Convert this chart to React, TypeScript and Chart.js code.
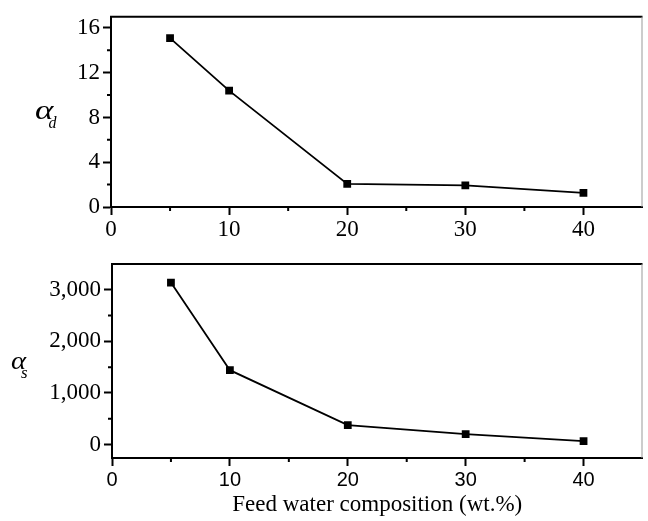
import React, { useEffect, useRef } from "react";
import { Chart, registerables } from "chart.js";
Chart.register(...registerables);

const feedWater = [5, 10, 20, 30, 40];
const alphaD = [15.1, 10.4, 2.06, 1.94, 1.26];
const alphaS = [3140, 1442, 376, 201, 66];
const xTicks = [0, 10, 20, 30, 40];
const xMinor = [5, 15, 25, 35];
const dTicks = [0, 4, 8, 12, 16];
const dMinor = [2, 6, 10, 14];
const sTicks = [0, 1000, 2000, 3000];
const sMinor = [500, 1500, 2500];
const xTitle = "Feed water composition (wt.%)";

const SERIF = "'Liberation Serif', 'Times New Roman', serif";
const SANS = "'Liberation Sans', Arial, sans-serif";

type PanelSpec = {
  values: number[];
  yMin: number;
  yMax: number;
  yTicks: number[];
  yMinor: number[];
  symbol: string;
  sub: string;
  labelX: number;
  symSize: number;
  symScale: number;
  subSize: number;
  left: number;
  top: number;
  xHeight: number;
  showTitle: boolean;
  xFont: { family: string; size: number };
  xPad: number;
  fmt: (v: number) => string;
};

function makeChart(canvas: HTMLCanvasElement, p: PanelSpec) {
  const decor = {
    id: "decor",
    afterDraw(chart: any) {
      const { ctx, chartArea } = chart;
      const xs = chart.scales.x;
      const ys = chart.scales.y;
      ctx.save();
      ctx.strokeStyle = "#000";
      ctx.lineWidth = 2;
      ctx.beginPath();
      ctx.moveTo(chartArea.left - 1, chartArea.top);
      ctx.lineTo(chartArea.right, chartArea.top);
      ctx.stroke();
      ctx.strokeStyle = "#999";
      ctx.lineWidth = 1;
      ctx.beginPath();
      ctx.moveTo(chartArea.right - 0.5, chartArea.top);
      ctx.lineTo(chartArea.right - 0.5, chartArea.bottom);
      ctx.stroke();
      ctx.strokeStyle = "#000";
      ctx.lineWidth = 2;
      ctx.beginPath();
      xMinor.forEach((v) => {
        const px = xs.getPixelForValue(v);
        ctx.moveTo(px, chartArea.bottom);
        ctx.lineTo(px, chartArea.bottom + 4);
      });
      p.yMinor.forEach((v) => {
        const py = ys.getPixelForValue(v);
        ctx.moveTo(chartArea.left, py);
        ctx.lineTo(chartArea.left - 4, py);
      });
      ctx.stroke();
      const cy = (chartArea.top + chartArea.bottom) / 2;
      ctx.fillStyle = "#000";
      ctx.textBaseline = "alphabetic";
      ctx.textAlign = "left";
      ctx.font = `italic ${p.symSize}px ${SERIF}`;
      const w = ctx.measureText(p.symbol).width * p.symScale;
      ctx.save();
      ctx.translate(p.labelX, cy + 7.5);
      ctx.scale(p.symScale, 1);
      ctx.fillText(p.symbol, 0, 0);
      ctx.restore();
      ctx.font = `italic ${p.subSize}px ${SERIF}`;
      ctx.fillText(p.sub, p.labelX + w - 5, cy + 16.5);
      ctx.restore();
    },
  };

  return new Chart(canvas, {
    type: "line",
    data: {
      datasets: [
        {
          data: feedWater.map((x, i) => ({ x, y: p.values[i] })),
          borderColor: "#000",
          backgroundColor: "#000",
          borderWidth: 1.8,
          pointStyle: "rect",
          pointRadius: 5.5,
          pointBorderWidth: 0,
          tension: 0,
        },
      ],
    },
    options: {
      animation: false,
      responsive: false,
      events: [],
      layout: { padding: { left: 0, top: p.top, right: 1, bottom: 0 } },
      plugins: { legend: { display: false }, tooltip: { enabled: false } },
      scales: {
        x: {
          type: "linear",
          min: 0,
          max: 45,
          afterBuildTicks: (s: any) => {
            s.ticks = xTicks.map((v) => ({ value: v }));
          },
          afterFit: (s: any) => {
            s.height = p.xHeight;
          },
          border: { display: true, color: "#000", width: 2 },
          grid: {
            display: true,
            drawOnChartArea: false,
            drawTicks: true,
            tickLength: 8,
            tickColor: "#000",
            tickWidth: 2,
          },
          ticks: {
            color: "#000",
            padding: p.xPad,
            maxRotation: 0,
            font: p.xFont,
            callback: (v: any) => String(v),
          },
          title: {
            display: p.showTitle,
            text: xTitle,
            color: "#000",
            font: { family: SERIF, size: 23 },
            padding: { top: 0, bottom: 2 },
          },
        },
        y: {
          type: "linear",
          min: p.yMin,
          max: p.yMax,
          afterBuildTicks: (s: any) => {
            s.ticks = p.yTicks.map((v) => ({ value: v }));
          },
          afterFit: (s: any) => {
            s.width = p.left;
          },
          border: { display: true, color: "#000", width: 2 },
          grid: {
            display: true,
            drawOnChartArea: false,
            drawTicks: true,
            tickLength: 8,
            tickColor: "#000",
            tickWidth: 2,
          },
          ticks: {
            color: "#000",
            padding: 3,
            font: { family: SERIF, size: 23 },
            callback: (v: any) => p.fmt(Number(v)),
          },
        },
      },
    },
    plugins: [decor],
  });
}

const fmtComma = (v: number) => v.toLocaleString("en-US");

export default function App() {
  const topRef = useRef<HTMLCanvasElement>(null);
  const botRef = useRef<HTMLCanvasElement>(null);

  useEffect(() => {
    const c1 = makeChart(topRef.current!, {
      values: alphaD,
      yMin: 0,
      yMax: 17,
      yTicks: dTicks,
      yMinor: dMinor,
      symbol: "α",
      sub: "d",
      labelX: 35,
      symSize: 27,
      symScale: 1.3,
      subSize: 16,
      left: 111,
      top: 14,
      xHeight: 33,
      showTitle: false,
      xFont: { family: SERIF, size: 23 },
      xPad: 1,
      fmt: (v) => String(v),
    });
    const c2 = makeChart(botRef.current!, {
      values: alphaS,
      yMin: -260,
      yMax: 3500,
      yTicks: sTicks,
      yMinor: sMinor,
      symbol: "α",
      sub: "s",
      labelX: 11,
      symSize: 25,
      symScale: 1.15,
      subSize: 17,
      left: 112,
      top: 24,
      xHeight: 63,
      showTitle: true,
      xFont: { family: SANS, size: 20 },
      xPad: 2,
      fmt: fmtComma,
    });
    return () => {
      c1.destroy();
      c2.destroy();
    };
  }, []);

  return (
    <div
      style={{
        position: "absolute",
        left: 0,
        top: 0,
        width: 648,
        height: 521,
        background: "#fff",
      }}
    >
      <canvas ref={topRef} width={648} height={240} style={{ display: "block" }} />
      <canvas ref={botRef} width={648} height={281} style={{ display: "block" }} />
    </div>
  );
}
